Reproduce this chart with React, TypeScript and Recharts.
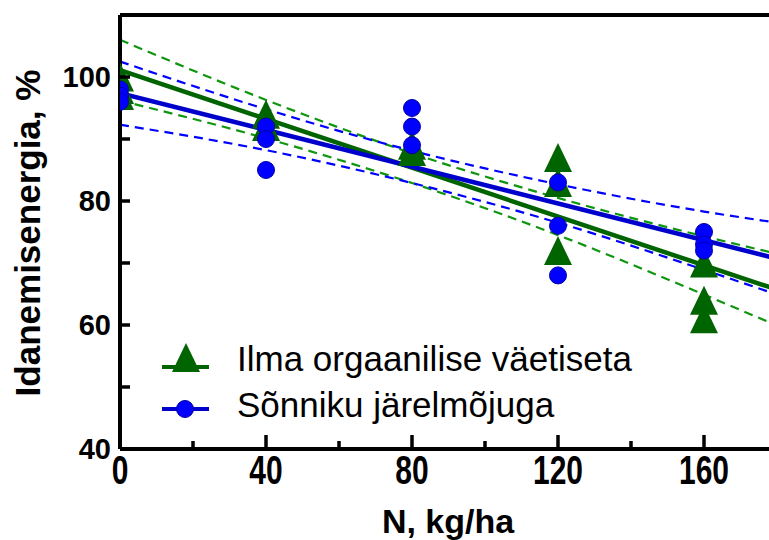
import {
  ComposedChart,
  Line,
  Scatter,
  XAxis,
  YAxis,
  ReferenceLine,
  Legend,
} from 'recharts';

const doses = [0, 40, 80, 120, 160];
const ilmaReps = [[100, 98, 97], [94, 92], [89, 88], [87, 83, 72], [70, 64, 61]];
const sonnikReps = [[98, 97, 96], [92, 90, 85], [95, 92, 89], [83, 76, 68], [75, 73, 72]];

const fitX = [0, 180];
const ilmaFit = [101.1, 65.7];
const sonnikFit = [97.4, 70.7];

const bandX = [0, 40, 80, 120, 160, 180];
const ilmaUpper = [106.0, 96.3, 87.7, 80.5, 74.3, 71.5];
const ilmaLower = [96.2, 90.1, 82.9, 74.5, 64.9, 59.9];
const sonnikUpper = [102.5, 94.8, 88.1, 82.7, 78.3, 76.5];
const sonnikLower = [92.3, 88.2, 82.9, 76.5, 68.9, 64.9];

const xTicks = [0, 20, 40, 60, 80, 100, 120, 140, 160, 180];
const yTicks = [40, 50, 60, 70, 80, 90, 100];

const GREEN = '#006400';
const GREEN_DASH = '#0f960f';
const BLUE = '#0000cc';
const BLUE_DOT = '#0000ff';
const FONT = '"Liberation Sans", Arial, sans-serif';

const reps = (vals: number[][]) =>
  vals.flatMap((arr, i) => arr.map((y) => ({ x: doses[i], y })));
const pairs = (xs: number[], ys: number[]) => xs.map((x, i) => ({ x, y: ys[i] }));

const Triangle = ({ cx, cy }: any) => (
  <polygon
    points={`${cx},${cy - 14.5} ${cx - 14},${cy + 14.5} ${cx + 14},${cy + 14.5}`}
    fill={GREEN}
  />
);

const Dot = ({ cx, cy }: any) => (
  <circle cx={cx} cy={cy} r={8.5} fill={BLUE_DOT} stroke="#0000a8" strokeWidth={1} />
);

const XTick = ({ x, y, payload }: any) => {
  const v = payload.value;
  const major = v % 40 === 0;
  return (
    <g>
      <line x1={x} x2={x} y1={y} y2={y - (major ? 14 : 8)} stroke="#000" strokeWidth={3.5} />
      {major && (
        <text
          transform={`translate(${x},${y + 6}) scale(1,1.35)`}
          y={21.5}
          textAnchor="middle"
          fontFamily={FONT}
          fontWeight="bold"
          fontSize={30}
          fill="#000"
        >
          {v}
        </text>
      )}
    </g>
  );
};

const YTick = ({ x, y, payload }: any) => {
  const v = payload.value;
  const major = v % 20 === 0;
  return (
    <g>
      <line x1={x} x2={x + 10} y1={y} y2={y} stroke="#000" strokeWidth={3.5} />
      {major && (
        <text x={x - 9} y={y + 10} textAnchor="end" fontFamily={FONT} fontWeight="bold" fontSize={29} fill="#000">
          {v}
        </text>
      )}
    </g>
  );
};

const XLabel = () => (
  <text x={448} y={533} textAnchor="middle" fontFamily={FONT} fontWeight="bold" fontSize={34} fill="#000">
    N, kg/ha
  </text>
);

const YLabel = () => (
  <text
    transform="translate(40,233) rotate(-90)"
    textAnchor="middle"
    fontFamily={FONT}
    fontWeight="bold"
    fontSize={35}
    fill="#000"
  >
    Idanemisenergia, %
  </text>
);

const LegendBox = () => (
  <svg width={520} height={100} style={{ display: 'block' }}>
    <line x1={12} x2={59} y1={37} y2={37} stroke={GREEN} strokeWidth={4} />
    <polygon points="36,13 22,42 50,42" fill={GREEN} />
    <text x={87} y={41} fontFamily={FONT} fontSize={35} fill="#000">
      Ilma orgaanilise väetiseta
    </text>
    <line x1={12} x2={59} y1={79} y2={79} stroke={BLUE} strokeWidth={4} />
    <circle cx={35} cy={79} r={8.5} fill={BLUE_DOT} stroke="#0000a8" strokeWidth={1} />
    <text x={87} y={87} fontFamily={FONT} fontSize={35} fill="#000">
      Sõnniku järelmõjuga
    </text>
  </svg>
);

export default function App() {
  return (
    <div
      style={{
        position: 'absolute',
        left: 0,
        top: 0,
        width: 769,
        height: 540,
        overflow: 'hidden',
        background: '#fff',
      }}
    >
      <ComposedChart width={777} height={540} margin={{ top: 15, right: 0, bottom: 0, left: 0 }}>
        <XAxis
          type="number"
          dataKey="x"
          domain={[0, 180]}
          ticks={xTicks}
          interval={0}
          height={91}
          tickSize={0}
          tickMargin={0}
          tickLine={false}
          tick={<XTick />}
          axisLine={{ stroke: '#000', strokeWidth: 4 }}
          label={<XLabel />}
          allowDataOverflow
        />
        <YAxis
          type="number"
          dataKey="y"
          domain={[40, 110]}
          ticks={yTicks}
          interval={0}
          width={120}
          tickSize={0}
          tickMargin={0}
          tickLine={false}
          tick={<YTick />}
          axisLine={{ stroke: '#000', strokeWidth: 4 }}
          label={<YLabel />}
          allowDataOverflow
        />
        <ReferenceLine y={110} stroke="#000" strokeWidth={4} />
        <Scatter data={reps(ilmaReps)} shape={<Triangle />} isAnimationActive={false} />
        <Scatter data={reps(sonnikReps)} shape={<Dot />} isAnimationActive={false} />
        <Line data={pairs(bandX, ilmaUpper)} dataKey="y" type="monotone" stroke={GREEN_DASH} strokeWidth={2.2} strokeDasharray="9 6" dot={false} isAnimationActive={false} />
        <Line data={pairs(bandX, ilmaLower)} dataKey="y" type="monotone" stroke={GREEN_DASH} strokeWidth={2.2} strokeDasharray="9 6" dot={false} isAnimationActive={false} />
        <Line data={pairs(fitX, ilmaFit)} dataKey="y" type="linear" stroke={GREEN} strokeWidth={4.5} dot={false} isAnimationActive={false} />
        <Line data={pairs(bandX, sonnikUpper)} dataKey="y" type="monotone" stroke={BLUE_DOT} strokeWidth={2.2} strokeDasharray="9 6" dot={false} isAnimationActive={false} />
        <Line data={pairs(bandX, sonnikLower)} dataKey="y" type="monotone" stroke={BLUE_DOT} strokeWidth={2.2} strokeDasharray="9 6" dot={false} isAnimationActive={false} />
        <Line data={pairs(fitX, sonnikFit)} dataKey="y" type="linear" stroke={BLUE} strokeWidth={4.5} dot={false} isAnimationActive={false} />
        <Legend
          layout="vertical"
          align="center"
          verticalAlign="middle"
          content={<LegendBox />}
          wrapperStyle={{ left: 150, top: 330, width: 520, height: 100 }}
        />
      </ComposedChart>
    </div>
  );
}
